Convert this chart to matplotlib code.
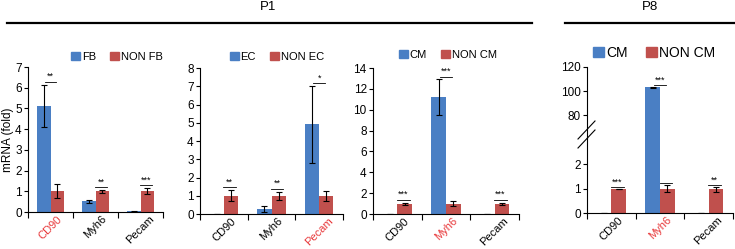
import numpy as np
import matplotlib
matplotlib.use('Agg')
import matplotlib.pyplot as plt
from matplotlib.lines import Line2D

plt.rcParams['font.family'] = ['Liberation Sans', 'DejaVu Sans']

# dane
genes = ['CD90', 'Myh6', 'Pecam']

p1_fb = [5.12, 0.52, 0.04]
p1_fb_err = [1.03, 0.08, 0.03]
p1_nonfb = [1.0, 1.0, 1.0]
p1_nonfb_err = [0.33, 0.07, 0.15]
p1_fb_stars = ['**', '**', '***']

p1_ec = [0.02, 0.28, 4.92]
p1_ec_err = [0.0, 0.18, 2.1]
p1_nonec = [1.0, 1.0, 1.0]
p1_nonec_err = [0.3, 0.22, 0.27]
p1_ec_stars = ['**', '**', '*']

p1_cm = [0.02, 11.2, 0.02]
p1_cm_err = [0.0, 1.7, 0.0]
p1_noncm = [1.0, 1.0, 1.0]
p1_noncm_err = [0.1, 0.25, 0.1]
p1_cm_stars = ['***', '***', '***']

p8_cm = [0.0, 103.0, 0.0]
p8_cm_err = [0.0, 0.5, 0.0]
p8_noncm = [0.98, 1.0, 0.97]
p8_noncm_err = [0.02, 0.15, 0.1]
p8_cm_stars = ['***', '***', '**']

BLUE = '#4a7fc4'
RED = '#c0504d'
HILITE = '#e8383a'
W = 735.0
H = 249.0


def px_rect(left, right, top, bottom):
    return [left / W, (H - bottom) / H, (right - left) / W, (bottom - top) / H]


def style_axis(ax, ymax, step, red_idx, labels=True):
    x = np.arange(len(genes))
    ax.set_xlim(-0.5, 2.5)
    ax.set_ylim(0, ymax)
    ax.set_yticks(np.arange(0, ymax + 0.01, step))
    for s in ['top', 'right']:
        ax.spines[s].set_visible(False)
    for s in ['left', 'bottom']:
        ax.spines[s].set_linewidth(0.8)
    ax.tick_params(axis='y', labelsize=8.5, length=3, width=0.8, pad=1.5)
    ax.set_xticks(x)
    ax.set_xticks([-0.5, 0.5, 1.5, 2.5], minor=True)
    ax.tick_params(axis='x', which='major', length=0, pad=1.5)
    ax.tick_params(axis='x', which='minor', length=4, width=0.8)
    if labels:
        ax.set_xticklabels(genes, rotation=45, ha='center', va='top', fontsize=8)
        for i, t in enumerate(ax.get_xticklabels()):
            if i == red_idx:
                t.set_color(HILITE)
    else:
        ax.set_xticklabels([])


def draw_bars(ax, a, a_err, b, b_err):
    x = np.arange(len(genes))
    bw = 0.3
    ax.bar(x - bw / 2, a, bw, color=BLUE, zorder=2)
    ax.bar(x + bw / 2, b, bw, color=RED, zorder=2)
    ek = dict(fmt='none', ecolor='black', elinewidth=0.8, capsize=2.5, capthick=0.8, zorder=3)
    ax.errorbar(x - bw / 2, a, yerr=a_err, **ek)
    ax.errorbar(x + bw / 2, b, yerr=b_err, **ek)


def draw_stars(ax, a, a_err, b, b_err, stars, ymax, skip_blue=False):
    for i, s in enumerate(stars):
        top_a = a[i] + a_err[i]
        top_b = b[i] + b_err[i]
        if top_a >= top_b and not skip_blue:
            xc = i
            top = top_a
        else:
            xc = i + 0.12
            top = top_b
        yl = top + ymax * 0.02
        ax.plot([xc - 0.13, xc + 0.13], [yl, yl], color='black', lw=0.6, zorder=3)
        ax.annotate(s, (xc, yl), xytext=(0, 0.5), textcoords='offset points',
                    ha='center', va='bottom', fontsize=6.5)


def add_legend(ax, names, cx, cy, size):
    h = [plt.Rectangle((0, 0), 1, 1, color=BLUE), plt.Rectangle((0, 0), 1, 1, color=RED)]
    ax.legend(h, names, loc='center', bbox_to_anchor=(cx / W, (H - cy) / H),
              bbox_transform=fig.transFigure, ncol=2, frameon=False, fontsize=size,
              handlelength=0.8, handleheight=0.8, handletextpad=0.15,
              columnspacing=1.3, borderpad=0, borderaxespad=0)


fig = plt.figure(figsize=(W / 100, H / 100), dpi=100)

# P1 - FB
ax1 = fig.add_axes(px_rect(28, 163, 67, 212))
draw_bars(ax1, p1_fb, p1_fb_err, p1_nonfb, p1_nonfb_err)
style_axis(ax1, 7, 1, 0)
draw_stars(ax1, p1_fb, p1_fb_err, p1_nonfb, p1_nonfb_err, p1_fb_stars, 7)
ax1.set_ylabel('mRNA (fold)', fontsize=8.5, labelpad=1)
add_legend(ax1, ['FB', 'NON FB'], 117, 57, 8)

# P1 - EC
ax2 = fig.add_axes(px_rect(200, 343, 68, 214))
draw_bars(ax2, p1_ec, p1_ec_err, p1_nonec, p1_nonec_err)
style_axis(ax2, 8, 1, 2)
draw_stars(ax2, p1_ec, p1_ec_err, p1_nonec, p1_nonec_err, p1_ec_stars, 8)
add_legend(ax2, ['EC', 'NON EC'], 277, 57, 8)

# P1 - CM
ax3 = fig.add_axes(px_rect(373, 519, 68, 214))
draw_bars(ax3, p1_cm, p1_cm_err, p1_noncm, p1_noncm_err)
style_axis(ax3, 14, 2, 1)
draw_stars(ax3, p1_cm, p1_cm_err, p1_noncm, p1_noncm_err, p1_cm_stars, 14)
add_legend(ax3, ['CM', 'NON CM'], 448, 55, 8)

# P8 - CM, os z przerwa
split = 138
ax4 = fig.add_axes(px_rect(587, 733, split, 213))
ax5 = fig.add_axes(px_rect(587, 733, 67, split))
lo_max = (213 - split) / 24.5
hi_min = 120 - (split - 67) / 1.2
draw_bars(ax4, p8_cm, p8_cm_err, p8_noncm, p8_noncm_err)
style_axis(ax4, lo_max, 1, 1)
ax4.set_yticks([0, 1, 2])
ax4.spines['left'].set_bounds(0, lo_max)
draw_stars(ax4, p8_cm, p8_cm_err, p8_noncm, p8_noncm_err, ['***', '', '**'], lo_max, skip_blue=True)

draw_bars(ax5, p8_cm, p8_cm_err, [0, 0, 0], [0, 0, 0])
style_axis(ax5, 120, 20, -1, labels=False)
ax5.set_ylim(hi_min, 120)
ax5.set_yticks([80, 100, 120])
ax5.spines['bottom'].set_visible(False)
ax5.tick_params(axis='x', which='both', length=0)
draw_stars(ax5, p8_cm, p8_cm_err, [0, 0, 0], [0, 0, 0], ['', '***', ''], 120 - hi_min)
add_legend(ax5, ['CM', 'NON CM'], 654, 53, 10)

# znaczniki przerwy osi
for dy in [0, 9]:
    fig.add_artist(Line2D([578 / W, 595 / W], [(H - 139 - dy) / H, (H - 121 - dy) / H],
                          color='black', lw=0.8))

# naglowki P1 / P8
fig.add_artist(Line2D([7 / W, 532 / W], [(H - 22.7) / H] * 2, color='black', lw=1.6))
fig.add_artist(Line2D([565 / W, 735 / W], [(H - 22.7) / H] * 2, color='black', lw=1.6))
fig.text(268 / W, (H - 7) / H, 'P1', ha='center', va='center', fontsize=9.5)
fig.text(650 / W, (H - 7) / H, 'P8', ha='center', va='center', fontsize=9.5)

fig.savefig('out.png', dpi=100)
